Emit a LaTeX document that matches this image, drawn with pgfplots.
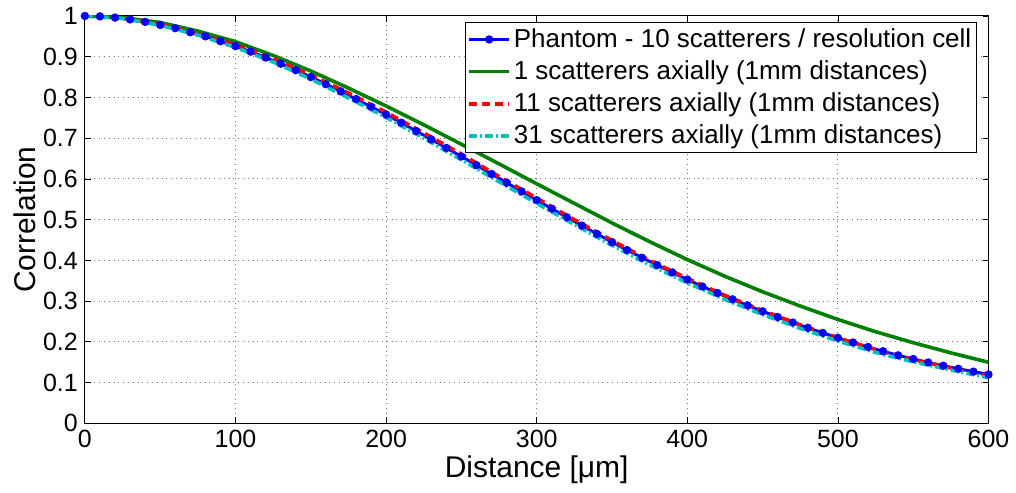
\documentclass[border=0pt]{standalone}
\usepackage{fontspec}
\setmainfont{Liberation Sans}
\usepackage{pgfplots}
\pgfplotsset{compat=1.18}
\definecolor{mblue}{rgb}{0,0,1}
\definecolor{mgreen}{rgb}{0,0.5,0}
\definecolor{mred}{rgb}{1,0,0}
\definecolor{mcyan}{rgb}{0,0.75,0.75}
\begin{document}
\begin{tikzpicture}
\begin{axis}[
  at={(0pt,0pt)}, anchor=south west,
  width=452.5pt, height=204pt, scale only axis,
  xmin=0, xmax=600, ymin=0, ymax=1,
  xtick={0,100,200,300,400,500,600},
  ytick={0,0.1,0.2,0.3,0.4,0.5,0.6,0.7,0.8,0.9,1},
  yticklabels={0,0.1,0.2,0.3,0.4,0.5,0.6,0.7,0.8,0.9,1},
  xticklabels={0,100,200,300,400,500,600},
  tick align=inside, xtick pos=both, ytick pos=both,
  major tick length=3pt,
  tick style={black, line width=0.4pt},
  axis line style={black, line width=0.5pt},
  grid=major,
  major grid style={dotted, black!55, line width=0.5pt},
  tick label style={font=\fontsize{12.5}{14}\selectfont},
  xlabel={Distance [μm]},
  ylabel={Correlation},
  label style={font=\fontsize{15}{17}\selectfont},
  xlabel style={yshift=3pt},
  ylabel style={yshift=-3pt},
  legend cell align=left,
  legend style={at={(0.987,0.985)}, anchor=north east, draw=black, line width=0.5pt,
    font=\fontsize{13}{15}\selectfont, inner sep=1pt, row sep=1.2pt,
    nodes={inner xsep=1.5pt},
    /tikz/every odd column/.append style={column sep=0pt}},
  legend image code/.code={\draw[mark repeat=2,mark phase=2,#1] plot coordinates {(0cm,0cm) (0.35cm,0cm) (0.7cm,0cm)};},
]
\addplot[mblue, line width=1.5pt, mark=*, mark size=1.3pt] coordinates {
(0,1.000) (10,0.999) (20,0.996) (30,0.9915) (40,0.9855) (50,0.978) (60,0.970) (70,0.960) (80,0.950) (90,0.938)
(100,0.926) (110,0.9125) (120,0.898) (130,0.883) (140,0.867) (150,0.850) (160,0.8325) (170,0.8145) (180,0.796) (190,0.777)
(200,0.758) (210,0.738) (220,0.7175) (230,0.697) (240,0.676) (250,0.655) (260,0.6337) (270,0.6122) (280,0.5907) (290,0.5692)
(300,0.548) (310,0.527) (320,0.506) (330,0.4855) (340,0.465) (350,0.445) (360,0.4255) (370,0.4065) (380,0.3885) (390,0.3705)
(400,0.353) (410,0.336) (420,0.320) (430,0.3045) (440,0.2895) (450,0.275) (460,0.261) (470,0.2475) (480,0.2345) (490,0.222)
(500,0.210) (510,0.1985) (520,0.1875) (530,0.177) (540,0.167) (550,0.158) (560,0.1495) (570,0.1415) (580,0.134) (590,0.127)
(600,0.120)};
\addlegendentry{Phantom - 10 scatterers / resolution cell}
\addplot[mgreen, line width=1.8pt] coordinates {
(0,1.000) (25,0.996) (50,0.984) (75,0.963) (100,0.937) (125,0.903) (150,0.865) (175,0.823) (200,0.779) (225,0.733)
(250,0.685) (275,0.637) (300,0.588) (325,0.540) (350,0.492) (375,0.446) (400,0.402) (425,0.361) (450,0.323) (475,0.288)
(500,0.255) (525,0.225) (550,0.198) (575,0.173) (600,0.150)};
\addlegendentry{1 scatterers axially (1mm distances)}
\addplot[mred, line width=1.8pt, dash pattern=on 4pt off 2.5pt] coordinates {
(0,1.000) (25,0.994) (50,0.979) (75,0.957) (100,0.929) (125,0.895) (150,0.855) (175,0.811) (200,0.764) (225,0.713)
(250,0.661) (275,0.606) (300,0.553) (325,0.500) (350,0.449) (375,0.400) (400,0.356) (425,0.314) (450,0.277) (475,0.242)
(500,0.210) (525,0.181) (550,0.156) (575,0.136) (600,0.117)};
\addlegendentry{11 scatterers axially (1mm distances)}
\addplot[mcyan, line width=1.8pt, dash pattern=on 4pt off 1.5pt on 1pt off 1.5pt] coordinates {
(0,1.000) (25,0.994) (50,0.977) (75,0.953) (100,0.923) (125,0.887) (150,0.845) (175,0.799) (200,0.751) (225,0.700)
(250,0.647) (275,0.593) (300,0.540) (325,0.488) (350,0.437) (375,0.389) (400,0.345) (425,0.304) (450,0.267) (475,0.233)
(500,0.202) (525,0.174) (550,0.151) (575,0.131) (600,0.112)};
\addlegendentry{31 scatterers axially (1mm distances)}
\end{axis}
\path (-42.5pt,-34.5pt) rectangle (465.5pt,212pt);
\end{tikzpicture}
\end{document}
